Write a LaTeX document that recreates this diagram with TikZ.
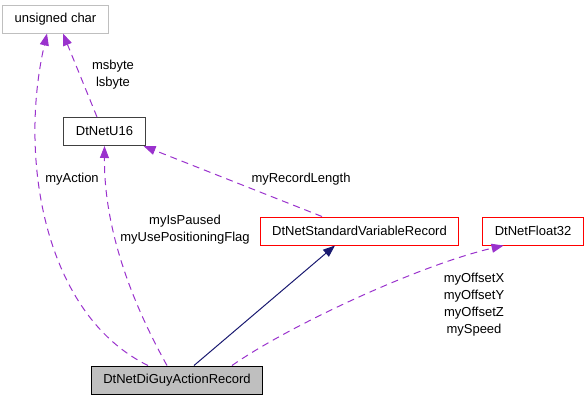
\documentclass[tikz,border=0pt]{standalone}
\usepackage{fontspec}
\setmainfont{Liberation Sans}
\usetikzlibrary{positioning,arrows.meta}
\definecolor{edgepurple}{HTML}{9A32CD}
\definecolor{inhnavy}{HTML}{191970}
\definecolor{boxgray}{HTML}{BFBFBF}

\begin{document}
\begin{tikzpicture}[x=1pt, y=-1pt, font=\fontsize{13}{17}\selectfont,
	class box/.style = {draw, line width=1pt, minimum height=28pt, inner xsep=12pt, inner ysep=0pt},
	member edge/.style = {edgepurple, line width=1pt, dash pattern=on 7pt off 5pt, -{Triangle[length=12pt, width=9pt]}},
	base edge/.style = {inhnavy, line width=1pt, -{Triangle[length=12pt, width=9pt]}}]
\useasboundingbox (0,0) rectangle (587,400);

\node[class box, draw=boxgray]					 (uchar)   at (55.5,19)  {unsigned char};
\node[class box, draw=black!75]					 (u16)	   at (104.5,131.5) {DtNetU16};
\node[class box, draw=red]						 (svr)	   at (359.5,231) {DtNetStandardVariableRecord};
\node[class box, draw=red, right=23pt of svr]	 (float32)	{DtNetFloat32};
\node[class box, draw=black, fill=boxgray]		 (diguy)   at (177,380)  {DtNetDiGuyActionRecord};

\draw[member edge] ([xshift=-29pt]diguy.north) .. controls (45,315) and (18,160) .. ([xshift=-8.5pt]uchar.south);
\node at (72,179) {myAction};

\draw[member edge] ([xshift=-7.5pt]u16.north) -- ([xshift=7.5pt]uchar.south);
\node[align=center] at (113,75) {msbyte\\lsbyte};

\draw[member edge] ([xshift=-10pt]diguy.north) .. controls (125,290) and (104,220) .. (u16.south);
\node[align=center] at (185,230) {myIsPaused\\myUsePositioningFlag};

\draw[member edge] ([xshift=-37.5pt]svr.north) -- ([xshift=-2pt]u16.south east);
\node at (301,179) {myRecordLength};

\draw[base edge] ([xshift=17pt]diguy.north) -- ([xshift=-24.5pt]svr.south);

\draw[member edge] ([xshift=55pt]diguy.north) .. controls (290,325) and (420,265) .. ([xshift=-29.5pt]float32.south);
\node[align=center] at (474,305) {myOffsetX\\myOffsetY\\myOffsetZ\\mySpeed};

\end{tikzpicture}
\end{document}
